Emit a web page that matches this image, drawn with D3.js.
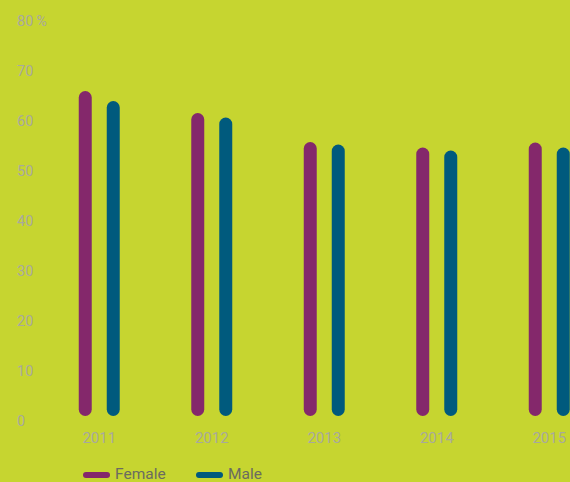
<!DOCTYPE html>
<html>
<head>
<meta charset="utf-8">
<script src="https://cdn.jsdelivr.net/npm/d3@7"></script>
<style>
  html, body { margin: 0; padding: 0; background: #c6d530; }
  svg { display: block; }
  text { font-family: Roboto, "Noto Sans", sans-serif; }
</style>
</head>
<body>
<svg id="chart" width="570" height="482"></svg>
<script>
// Share of respondents by sex, per year (%)
const years = ["2011", "2012", "2013", "2014", "2015"];
const female = [66.0, 61.6, 55.8, 54.7, 55.7];
const male = [64.0, 60.7, 55.3, 54.1, 54.7];
const yTicks = [0, 10, 20, 30, 40, 50, 60, 70, 80];
const seriesNames = ["Female", "Male"];
const seriesColors = ["#84286b", "#005a7d"];

const W = 570, H = 482;
const svg = d3.select("#chart");
svg.append("rect").attr("width", W).attr("height", H).attr("fill", "#c6d530");

const x = d3.scaleBand().domain(years).range([43, 605.5]).padding(0);
const y = d3.scaleLinear().domain([0, 80]).range([421, 21]);

const barW = 13;
const offsets = [-14, 14];
const series = [female, male];

// y axis: labels only
const yAxis = d3.axisLeft(y)
  .tickValues(yTicks)
  .tickSize(0)
  .tickFormat(d => d === 80 ? "80\u2009%" : d);
const gy = svg.append("g").attr("transform", "translate(17,0)").call(yAxis);
gy.select(".domain").remove();
gy.selectAll("text")
  .attr("x", 0)
  .attr("text-anchor", "start")
  .attr("fill", "#a8a99c")
  .style("font-size", "14.5px")
  .style("font-family", "Roboto, sans-serif");

// x axis: year labels
const xAxis = d3.axisBottom(x).tickSize(0);
const gx = svg.append("g").attr("transform", "translate(0,432)").call(xAxis);
gx.select(".domain").remove();
gx.selectAll("text")
  .attr("y", 0)
  .attr("dy", "0.71em")
  .attr("fill", "#a8a99c")
  .style("font-size", "15px")
  .style("font-family", "Roboto, sans-serif");

// rounded bars
series.forEach((vals, si) => {
  svg.append("g").selectAll("rect")
    .data(vals)
    .join("rect")
    .attr("x", (d, i) => x(years[i]) + x.bandwidth() / 2 + offsets[si] - barW / 2)
    .attr("y", d => y(d))
    .attr("width", barW)
    .attr("height", d => y(0) - 5 - y(d))
    .attr("rx", barW / 2)
    .attr("fill", seriesColors[si]);
});

// legend
const legend = svg.append("g").attr("transform", "translate(0,474)");
const legendX = [83, 196];
seriesNames.forEach((name, i) => {
  const g = legend.append("g").attr("transform", `translate(${legendX[i]},0)`);
  g.append("line")
    .attr("x1", 3).attr("x2", 24)
    .attr("y1", 1).attr("y2", 1)
    .attr("stroke", seriesColors[i])
    .attr("stroke-width", 6)
    .attr("stroke-linecap", "round");
  g.append("text")
    .attr("x", 32)
    .attr("y", 0)
    .attr("dy", "0.35em")
    .attr("fill", "#6b6b60")
    .style("font-size", "15.5px")
    .text(name);
});
</script>
</body>
</html>
